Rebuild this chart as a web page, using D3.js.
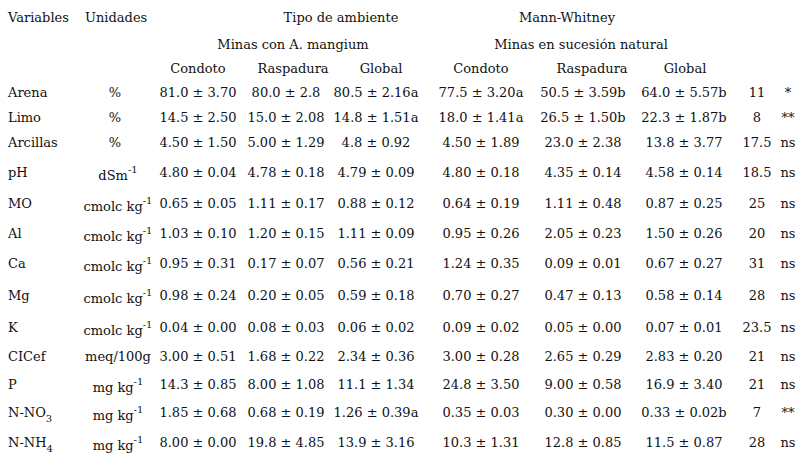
<!DOCTYPE html>
<html><head><meta charset="utf-8">
<script src="https://cdn.jsdelivr.net/npm/d3@7"></script>
<style>body{margin:0;background:#fff}text{font-family:"DejaVu Serif",serif;font-size:13px;fill:#111}</style>
</head><body><svg id="c" width="802" height="462"></svg>
<script>
// data
var variables = ["Arena","Limo","Arcillas","pH","MO","Al","Ca","Mg","K","CICef","P","N-NO|3","N-NH|4"];
var units = ["%","%","%","dSm^-1","cmolc kg^-1","cmolc kg^-1","cmolc kg^-1","cmolc kg^-1","cmolc kg^-1","meq/100g","mg kg^-1","mg kg^-1","mg kg^-1"];
var condoto1 = ["81.0 ± 3.70","14.5 ± 2.50","4.50 ± 1.50","4.80 ± 0.04","0.65 ± 0.05","1.03 ± 0.10","0.95 ± 0.31","0.98 ± 0.24","0.04 ± 0.00","3.00 ± 0.51","14.3 ± 0.85","1.85 ± 0.68","8.00 ± 0.00"];
var raspadura1 = ["80.0 ± 2.8","15.0 ± 2.08","5.00 ± 1.29","4.78 ± 0.18","1.11 ± 0.17","1.20 ± 0.15","0.17 ± 0.07","0.20 ± 0.05","0.08 ± 0.03","1.68 ± 0.22","8.00 ± 1.08","0.68 ± 0.19","19.8 ± 4.85"];
var global1 = ["80.5 ± 2.16a","14.8 ± 1.51a","4.8 ± 0.92","4.79 ± 0.09","0.88 ± 0.12","1.11 ± 0.09","0.56 ± 0.21","0.59 ± 0.18","0.06 ± 0.02","2.34 ± 0.36","11.1 ± 1.34","1.26 ± 0.39a","13.9 ± 3.16"];
var condoto2 = ["77.5 ± 3.20a","18.0 ± 1.41a","4.50 ± 1.89","4.80 ± 0.18","0.64 ± 0.19","0.95 ± 0.26","1.24 ± 0.35","0.70 ± 0.27","0.09 ± 0.02","3.00 ± 0.28","24.8 ± 3.50","0.35 ± 0.03","10.3 ± 1.31"];
var raspadura2 = ["50.5 ± 3.59b","26.5 ± 1.50b","23.0 ± 2.38","4.35 ± 0.14","1.11 ± 0.48","2.05 ± 0.23","0.09 ± 0.01","0.47 ± 0.13","0.05 ± 0.00","2.65 ± 0.29","9.00 ± 0.58","0.30 ± 0.00","12.8 ± 0.85"];
var global2 = ["64.0 ± 5.57b","22.3 ± 1.87b","13.8 ± 3.77","4.58 ± 0.14","0.87 ± 0.25","1.50 ± 0.26","0.67 ± 0.27","0.58 ± 0.14","0.07 ± 0.01","2.83 ± 0.20","16.9 ± 3.40","0.33 ± 0.02b","11.5 ± 0.87"];
var mw = ["11","8","17.5","18.5","25","20","31","28","23.5","21","21","7","28"];
var sig = ["*","**","ns","ns","ns","ns","ns","ns","ns","ns","ns","**","ns"];
var rowY = [92,117,142,172,203,233,263,295,327,356,384,412,442];

var svg = d3.select("#c");
var y = d3.scaleOrdinal().domain(variables).range(rowY);

function txt(x, yy, s, anchor) {
  return svg.append("text").attr("x", x).attr("y", yy + 5).attr("text-anchor", anchor || "middle").text(s);
}
// headers
txt(8, 17, "Variables", "start");
txt(85, 17, "Unidades", "start");
txt(341, 17, "Tipo de ambiente");
txt(567, 17, "Mann-Whitney");
txt(293, 44, "Minas con A. mangium");
txt(581, 44, "Minas en sucesión natural");
[["Condoto",198],["Raspadura",293],["Global",381],["Condoto",481],["Raspadura",592],["Global",685]]
  .forEach(function(h){ txt(h[1], 68, h[0]); });

// variables (| marks subscript)
variables.forEach(function(v){
  var p = v.split("|");
  var t = txt(8, y(v), p[0], "start");
  if (p[1]) t.append("tspan").attr("dy", 5).attr("font-size", 10).text(p[1]);
});
// units (^ marks superscript)
units.forEach(function(u, i){
  var p = u.split("^");
  var sup = !!p[1];
  var t = txt(p[0] == "%" ? 115 : 118, rowY[i] + (sup ? 3 : 0), p[0]);
  if (sup) t.append("tspan").attr("dy", -7).attr("font-size", 10).text(p[1]);
});
var cols = [[condoto1,198],[raspadura1,286],[global1,376],[condoto2,481],[raspadura2,583],[global2,684],[mw,757],[sig,788]];
cols.forEach(function(c){
  svg.append("g").selectAll("text").data(c[0]).join("text")
    .attr("x", c[1]).attr("y", function(d, i){ return rowY[i] + 5; })
    .attr("text-anchor", "middle").text(function(d){ return d; });
});
</script></body></html>
